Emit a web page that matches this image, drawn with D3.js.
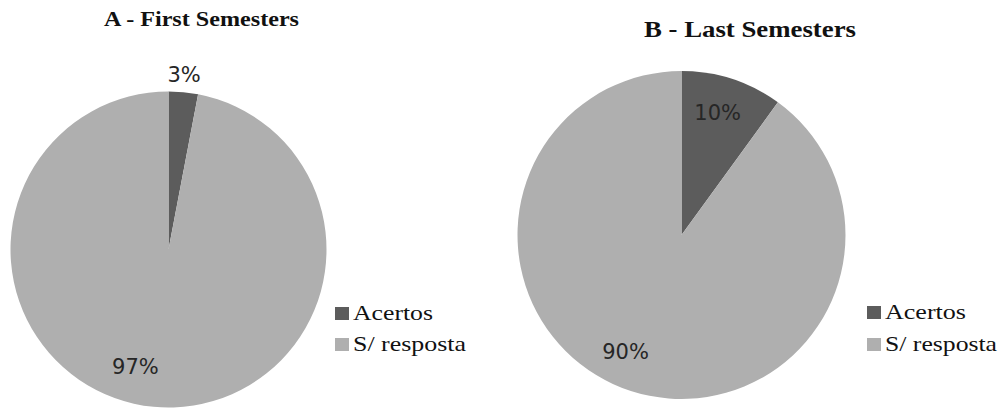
<!DOCTYPE html>
<html>
<head>
<meta charset="utf-8">
<script src="https://cdn.jsdelivr.net/npm/d3@7"></script>
<style>
  html, body { margin: 0; padding: 0; background: #ffffff; }
  svg { display: block; }
</style>
</head>
<body>
<svg id="chart" width="1005" height="410"></svg>
<script>
// Answer categories shared by both pies
const categories = ["Acertos", "S/ resposta"];

// Percentages per group
const firstSemesters = [3, 97];
const lastSemesters = [10, 90];

// Chart titles
const titles = ["A - First Semesters", "B - Last Semesters"];

const colors = d3.scaleOrdinal().domain(categories).range(["#5c5c5c", "#afafaf"]);

const svg = d3.select("#chart");

// Layout for each panel
const panels = [
  {
    values: firstSemesters, title: titles[0],
    cx: 168.5, cy: 249.5, r: 158,
    title_x: 201.5, title_y: 26, title_size: 21.5, title_len: 195,
    // per-slice label placement: radius factor and angular shift (degrees)
    labels: [{ rf: 1.11, shift: -0.3 }, { rf: 0.77, shift: 10.4 }],
    legend_x: 335, legend_y: 307, legend_gap: 31, legend_lens: [80, 113]
  },
  {
    values: lastSemesters, title: titles[1],
    cx: 681.5, cy: 235, r: 164,
    title_x: 750, title_y: 37, title_size: 24, title_len: 212,
    labels: [{ rf: 0.78, shift: -1.6 }, { rf: 0.79, shift: 7.6 }],
    legend_x: 867, legend_y: 306, legend_gap: 32, legend_lens: [81, 112]
  }
];

const pie = d3.pie().sort(null).value(d => d.value);

panels.forEach(p => {
  const data = categories.map((c, i) => ({ category: c, value: p.values[i] }));
  const arcs = pie(data);
  const arc = d3.arc().innerRadius(0).outerRadius(p.r);

  const g = svg.append("g").attr("transform", `translate(${p.cx},${p.cy})`);

  g.selectAll("path.slice")
    .data(arcs)
    .join("path")
    .attr("class", "slice")
    .attr("d", arc)
    .attr("fill", d => colors(d.data.category));

  // Percentage labels
  const labelAngle = (d, i) => (d.startAngle + d.endAngle) / 2 + p.labels[i].shift * Math.PI / 180;
  g.selectAll("text.pct")
    .data(arcs)
    .join("text")
    .attr("class", "pct")
    .attr("x", (d, i) => Math.sin(labelAngle(d, i)) * p.r * p.labels[i].rf)
    .attr("y", (d, i) => -Math.cos(labelAngle(d, i)) * p.r * p.labels[i].rf)
    .attr("dy", "0.36em")
    .attr("text-anchor", "middle")
    .attr("font-family", "DejaVu Sans, sans-serif")
    .attr("font-size", 21)
    .attr("fill", "#262626")
    .text(d => d.data.value + "%");

  // Title
  svg.append("text")
    .attr("x", p.title_x)
    .attr("y", p.title_y)
    .attr("text-anchor", "middle")
    .attr("font-family", "Liberation Serif, Times New Roman, serif")
    .attr("font-weight", "bold")
    .attr("font-size", p.title_size)
    .attr("textLength", p.title_len)
    .attr("lengthAdjust", "spacingAndGlyphs")
    .attr("fill", "#111")
    .text(p.title);

  // Legend
  const lg = svg.append("g").attr("transform", `translate(${p.legend_x},${p.legend_y})`);
  const items = lg.selectAll("g.item")
    .data(categories)
    .join("g")
    .attr("class", "item")
    .attr("transform", (d, i) => `translate(0,${i * p.legend_gap})`);
  items.append("rect")
    .attr("width", 14)
    .attr("height", 13)
    .attr("fill", d => colors(d));
  items.append("text")
    .attr("x", 18)
    .attr("y", 13)
    .attr("font-family", "Liberation Serif, Times New Roman, serif")
    .attr("font-size", 21)
    .attr("textLength", (d, i) => p.legend_lens[i])
    .attr("lengthAdjust", "spacingAndGlyphs")
    .attr("fill", "#111")
    .text(d => d);
});
</script>
</body>
</html>
